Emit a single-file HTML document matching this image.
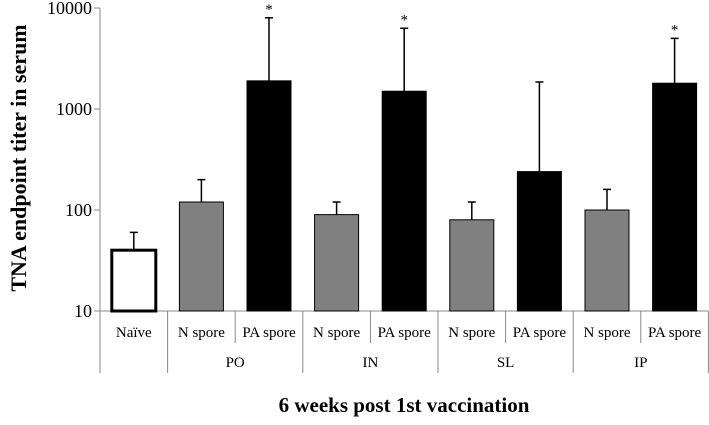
<!DOCTYPE html>
<html><head><meta charset="utf-8"><style>
body{margin:0;background:#fff;}
svg text{font-family:"Liberation Serif","DejaVu Serif",serif;fill:#000;}
</style></head><body>
<svg id="c" width="709" height="420" font-family="Liberation Serif, serif"></svg>
<script>
const categories=["Naïve","N spore","PA spore","N spore","PA spore","N spore","PA spore","N spore","PA spore"];
const groups=["PO","IN","SL","IP"];
const values=[40,120,1900,90,1500,80,240,100,1800];
const errors=[60,200,8000,120,6300,120,1850,160,5000];
const sig=[false,false,true,false,true,false,false,false,true];
const yTicks=[10,100,1000,10000];
const ns="http://www.w3.org/2000/svg";
const svg=document.getElementById('c');
const x0=100,cw=67.6,yTop=8,yBot=311;
const FF='"Liberation Serif", serif';
function y(v){return yBot-(Math.log10(v)-1)/3*(yBot-yTop);}
function mk(t,a,p){const e=document.createElementNS(ns,t);for(const k in a)e.setAttribute(k,a[k]);if(t==='text')e.style.fontFamily=FF;(p||svg).appendChild(e);return e;}
const axis=mk('line',{x1:x0,y1:yTop,x2:x0,y2:yBot,stroke:'#888'});


const xl=mk('line',{x1:x0,y1:yBot,x2:x0+cw*9,y2:yBot,stroke:'#888'});


yTicks.forEach(t=>{
 mk('line',{x1:x0-6,y1:y(t),x2:x0,y2:y(t),stroke:'#888'});
 const tx=mk('text',{x:x0-8,y:y(t)+6,'text-anchor':'end','font-size':18});tx.textContent=t;
 
 
});
for(let i=0;i<=9;i++){
 const long=(i%2===1)||i===0||i===9;
 mk('line',{x1:x0+cw*i,y1:yBot,x2:x0+cw*i,y2:long?373:343,stroke:'#888'});
}
categories.forEach((c,i)=>{
 const cx=x0+cw*(i+0.5),bw=44;
 const fill=i===0?'#fff':(i%2===1?'#808080':'#000');
 const r=mk('rect',{x:cx-bw/2,y:y(values[i]),width:bw,height:yBot-y(values[i]),fill:fill,stroke:'#000','stroke-width':i===0?3:1});
 
 
 const e=mk('path',{d:`M${cx},${y(values[i])}V${y(errors[i])}M${cx-4},${y(errors[i])}H${cx+4}`,stroke:'#000','stroke-width':1.5,fill:'none'});
 
 
 if(sig[i]){const s=mk('text',{x:cx,y:y(errors[i])-4,'text-anchor':'middle','font-size':15});s.textContent='*';
 
 }
 const t=mk('text',{x:cx,y:337,'text-anchor':'middle','font-size':15});t.textContent=c;
 
 
});
groups.forEach((g,j)=>{
 const t=mk('text',{x:x0+cw*(2+2*j),y:367,'text-anchor':'middle','font-size':15});t.textContent=g;
 
 
});
const xt=mk('text',{x:404,y:412,'text-anchor':'middle','font-size':21,'font-weight':'bold'});xt.textContent='6 weeks post 1st vaccination';


const yt=mk('text',{x:0,y:0,'text-anchor':'middle','font-size':22,'font-weight':'bold',transform:'translate(26,158) rotate(-90)'});yt.textContent='TNA endpoint titer in serum';


</script>
</body></html>
